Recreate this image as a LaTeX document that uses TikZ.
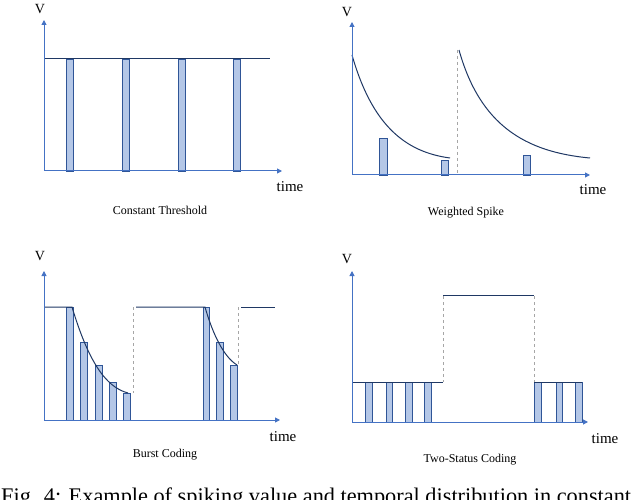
\documentclass[tikz,border=0pt]{standalone}
\usepackage{fontspec}
\setmainfont{Liberation Serif}
\usetikzlibrary{arrows.meta}
\definecolor{ax}{RGB}{68,114,196}
\definecolor{nv}{RGB}{31,56,100}
\definecolor{bf}{RGB}{180,199,231}
\definecolor{bd}{RGB}{47,85,151}
\tikzset{axis/.style={ax,line width=1pt,-{Triangle[length=5pt,width=5pt]}},
 thr/.style={nv,line width=1pt},
 bar/.style={fill=bf,draw=bd,line width=0.8pt},
 dsh/.style={gray!70,dashed,line width=0.5pt},
 lbl/.style={font=\fontsize{12}{13}\selectfont},
 tl/.style={font=\fontsize{15}{16}\selectfont},
 vl/.style={font=\fontsize{14}{15}\selectfont}}
\begin{document}
\begin{tikzpicture}[x=1pt,y=-1pt]
\useasboundingbox[fill=white] (0,0) rectangle (640,500);
\clip (0,0) rectangle (640,500);
% Panel 1
\foreach \a/\b in {66/73,122/129,178/185,233/240}{\draw[bar] (\a,59) rectangle (\b,171);}
\draw[thr] (44,59) -- (270,59);
\draw[axis] (44,171) -- (282,171);
\draw[axis] (44,171) -- (44,20);
\node[vl] (v1) at (40,9) {V};
\node[tl] (t1) at (290,187) {time};
\node[lbl] (c1) at (160,210) {Constant Threshold};
% Panel 2
\draw[bar] (379,138) rectangle (387,175);
\draw[bar] (441,160) rectangle (448,175);
\draw[bar] (523,155) rectangle (530,175);
\draw[dsh] (457,50) -- (457,175);
\draw[thr] (352,55) .. controls (372,125) and (405,152) .. (450,158);
\draw[thr] (459,50) .. controls (480,125) and (525,152) .. (590,158);
\draw[axis] (352,175) -- (590,175);
\draw[axis] (352,175) -- (352,22);
\node[vl] (v2) at (347,12) {V};
\node[tl] (t2) at (593,190) {time};
\node[lbl] (c2) at (466,213) {Weighted Spike};
% Panel 3
\foreach \a/\b/\t in {66/73/307,80/87/342,95/102/365,109/116/382,123/130/393,203/209/307,216/223/342,230/237/365}{\draw[bar] (\a,\t) rectangle (\b,420);}
\draw[dsh] (133,307) -- (133,393);
\draw[dsh] (238,307) -- (238,365);
\draw[thr] (44,307) -- (72,307) .. controls (88,360) and (105,387) .. (128,393);
\draw[thr] (136,307) -- (205,307) .. controls (213,335) and (224,357) .. (237,365);
\draw[thr] (241,307) -- (275,307);
\draw[axis] (44,420) -- (280,420);
\draw[axis] (44,420) -- (44,271);
\node[vl] (v3) at (40,256) {V};
\node[tl] (t3) at (283,437) {time};
\node[lbl] (c3) at (165,455) {Burst Coding};
% Panel 4
\foreach \a/\b in {365/372,386/392,405/412,424/431,534/541,556/562,575/582}{\draw[bar] (\a,382) rectangle (\b,422);}
\draw[dsh] (443,296) -- (443,382);
\draw[dsh] (534,296) -- (534,382);
\draw[thr] (352,382) -- (443,382);
\draw[thr] (443,295) -- (534,295);
\draw[thr] (534,382) -- (582,382);
\draw[axis] (352,422) -- (588,422);
\draw[axis] (352,422) -- (352,271);
\node[vl] (v4) at (347,259) {V};
\node[tl] (t4) at (605,439) {time};
\node[lbl] (c4) at (470,460) {Two-Status Coding};
% Caption
\node[anchor=base west,font=\fontsize{22.3}{24}\selectfont,inner sep=0pt] (cap) at (1,503) {Fig. 4: Example of spiking value and temporal distribution in constant};
\end{tikzpicture}
\end{document}
